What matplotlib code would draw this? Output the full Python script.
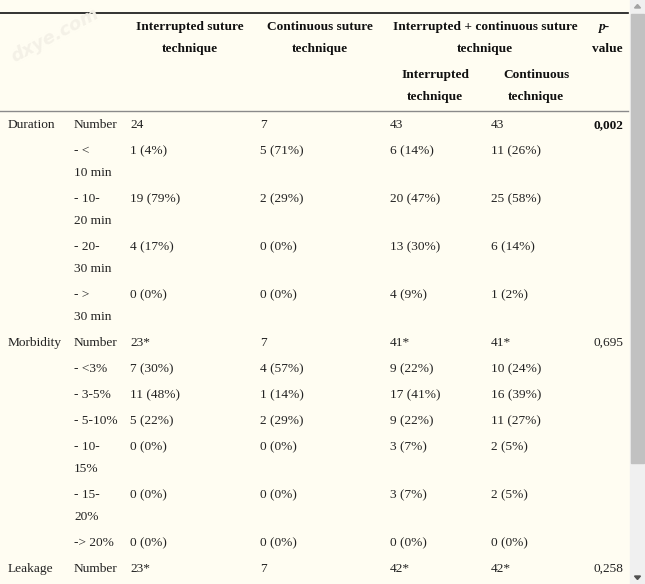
import matplotlib
matplotlib.use("Agg")
import matplotlib.pyplot as plt
from matplotlib.patches import Rectangle, Polygon

# ---- data ----
row_group = ["Duration", "", "", "", "", "Morbidity", "", "", "", "", "", "", "Leakage"]
row_sub = ["Number", "- <\n10 min", "- 10-\n20 min", "- 20-\n30 min", "- >\n30 min",
           "Number", "- <3%", "- 3-5%", "- 5-10%", "- 10-\n15%", "- 15-\n20%", "-> 20%",
           "Number"]
interrupted = ["24", "1 (4%)", "19 (79%)", "4 (17%)", "0 (0%)",
               "23*", "7 (30%)", "11 (48%)", "5 (22%)", "0 (0%)", "0 (0%)", "0 (0%)", "23*"]
continuous = ["7", "5 (71%)", "2 (29%)", "0 (0%)", "0 (0%)",
              "7", "4 (57%)", "1 (14%)", "2 (29%)", "0 (0%)", "0 (0%)", "0 (0%)", "7"]
combo_interrupted = ["43", "6 (14%)", "20 (47%)", "13 (30%)", "4 (9%)",
                     "41*", "9 (22%)", "17 (41%)", "9 (22%)", "3 (7%)", "3 (7%)", "0 (0%)", "42*"]
combo_continuous = ["43", "11 (26%)", "25 (58%)", "6 (14%)", "1 (2%)",
                    "41*", "10 (24%)", "16 (39%)", "11 (27%)", "2 (5%)", "2 (5%)", "0 (0%)", "42*"]
p_values = ["0,002", "", "", "", "", "0,695", "", "", "", "", "", "", "0,258"]
p_bold = [True] + [False] * 12

headers_main = ["Interrupted suture\ntechnique", "Continuous suture\ntechnique",
                "Interrupted + continuous suture\ntechnique"]
headers_sub = ["Interrupted\ntechnique", "Continuous\ntechnique"]

# ---- layout ----
W, H = 645, 584
BG = "#fffdf2"
FONT = "Liberation Serif"
FS = 9.6
TXT = "#222222"

fig = plt.figure(figsize=(W / 100, H / 100), dpi=100)
fig.patch.set_facecolor(BG)
ax = fig.add_axes([0, 0, 1, 1])
ax.set_xlim(0, W)
ax.set_ylim(H, 0)
ax.axis("off")
ax.set_facecolor(BG)

def txt(x, y, s, ha="left", weight="normal", style="normal", color=TXT, lh=22):
    for i, line in enumerate(s.split("\n")):
        ax.text(x, y + i * lh, line, ha=ha, va="baseline", fontsize=FS,
                family=FONT, weight=weight, style=style, color=color)

# watermark
ax.text(55, 35, "dxye.com", rotation=28, ha="center", va="center", fontsize=13,
        family="DejaVu Sans", weight="bold", style="italic", color="#f4f1e7")

# rules
ax.plot([0, 628], [13, 13], color="#111111", lw=1.2)
ax.plot([0, 628], [110.5, 110.5], color="#8a8a8a", lw=1.0)

# headers
hx = [190, 320, 485]
for x, h in zip(hx, headers_main):
    txt(x, 30, h, ha="center", weight="bold", color="#111111")
txt(605, 30, "p-", ha="center", style="italic", weight="bold", color="#111111")
txt(607, 52, "value", ha="center", weight="bold", color="#111111")
for x, h in zip([435, 536], headers_sub):
    txt(x, 78, h, ha="center", weight="bold", color="#111111")

# body
cols = [(130, interrupted), (260, continuous), (390, combo_interrupted), (491, combo_continuous)]
y = 128
for i in range(len(row_sub)):
    nlines = row_sub[i].count("\n") + 1
    if row_group[i]:
        txt(8, y, row_group[i])
    txt(74, y, row_sub[i])
    for x, vals in cols:
        txt(x, y, vals[i])
    if p_values[i]:
        txt(623, y, p_values[i], ha="right",
            weight="bold" if p_bold[i] else "normal",
            color="#111111" if p_bold[i] else TXT)
    y += 26 + 22 * (nlines - 1)

# scrollbar
ax.add_patch(Rectangle((630, 0), 15, H, color="#f0f0f0", zorder=0))
ax.add_patch(Rectangle((631, 14), 13, 449, color="#c1c1c1", zorder=1))
ax.add_patch(Polygon([[634.5, 8], [640.5, 8], [637.5, 4.5]], color="#a3a3a3", zorder=2))
ax.add_patch(Polygon([[634.5, 576], [640.5, 576], [637.5, 579.5]], color="#505050", zorder=2))

fig.savefig("out.png", dpi=100, facecolor=BG)
